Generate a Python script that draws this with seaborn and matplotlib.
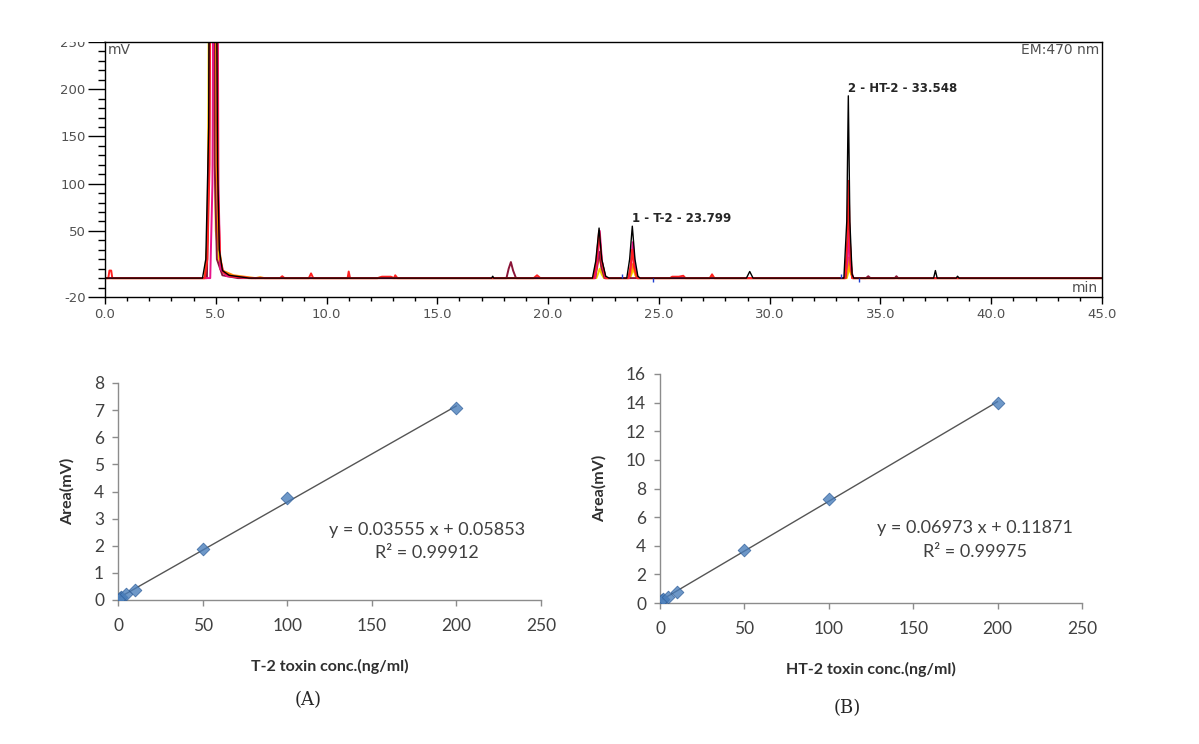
import matplotlib
matplotlib.use("Agg")
import matplotlib.pyplot as plt
import seaborn as sns
import pandas as pd
from matplotlib.patches import Rectangle

# --- chromatogram traces: (time in min, signal in mV) ---
black_pts = [(0, 0), (4.40, 0), (4.55, 20), (4.62, 95), (4.68, 160), (4.74, 550), (4.98, 550),
             (5.08, 120), (5.16, 30), (5.30, 8), (5.60, 3), (6.50, 0), (17.45, 0), (17.50, 2),
             (17.55, 0), (22.00, 0), (22.15, 18), (22.30, 53), (22.42, 20), (22.60, 2), (22.75, 0),
             (23.55, 0), (23.68, 20), (23.80, 55), (23.92, 20), (24.05, 2), (24.15, 0), (28.95, 0),
             (29.10, 7), (29.25, 0), (33.35, 0), (33.48, 60), (33.55, 193), (33.62, 60), (33.72, 4),
             (33.80, 0), (37.40, 0), (37.48, 8), (37.56, 0), (38.42, 0), (38.48, 2), (38.55, 0), (45, 0)]
red_pts = [(0, 0), (0.15, 0), (0.20, 8), (0.28, 8), (0.33, 0), (4.50, 0), (4.62, 20), (4.72, 120),
           (4.80, 550), (5.00, 550), (5.10, 90), (5.20, 20), (5.35, 6), (5.70, 2), (6.60, 0), (7.90, 0),
           (8.00, 2), (8.10, 0), (9.20, 0), (9.30, 5), (9.40, 0), (10.95, 0), (11.00, 7), (11.06, 0),
           (12.30, 0), (12.50, 1.5), (12.90, 1.5), (13.05, 0), (13.10, 3), (13.20, 0), (19.35, 0),
           (19.50, 3), (19.65, 0), (22.05, 0), (22.18, 18), (22.30, 50), (22.42, 18), (22.60, 0),
           (23.62, 0), (23.72, 12), (23.80, 30), (23.88, 12), (24.02, 0), (25.50, 0), (25.60, 1.5),
           (25.90, 1.5), (26.10, 2.5), (26.20, 0), (27.30, 0), (27.40, 4), (27.50, 0), (33.40, 0),
           (33.50, 40), (33.56, 103), (33.62, 40), (33.72, 0), (45, 0)]
magenta_pts = [(0, 0), (4.75, 0), (4.85, 100), (4.92, 550), (5.05, 550), (5.12, 100), (5.20, 10),
               (5.50, 2), (6.50, 0), (22.12, 0), (22.22, 18), (22.33, 50), (22.43, 18), (22.58, 0),
               (23.65, 0), (23.75, 15), (23.82, 38), (23.92, 12), (24.05, 0), (33.40, 0), (33.52, 20),
               (33.58, 50), (33.65, 15), (33.75, 0), (45, 0)]
maroon_pts = [(0, 0), (4.60, 0), (4.70, 150), (4.78, 550), (4.88, 550), (4.95, 120), (5.05, 20),
              (5.30, 3), (6.00, 0), (18.12, 0), (18.22, 10), (18.32, 17), (18.42, 8), (18.55, 0),
              (22.12, 0), (22.22, 15), (22.30, 28), (22.40, 12), (22.55, 0), (33.42, 0), (33.52, 30),
              (33.58, 60), (33.66, 15), (33.75, 0), (34.35, 0), (34.45, 2), (34.55, 0), (35.65, 0),
              (35.72, 2), (35.80, 0), (45, 0)]
orange_pts = [(0, 0), (4.50, 0), (4.62, 40), (4.70, 200), (4.76, 550), (4.90, 550), (5.00, 180),
              (5.10, 40), (5.30, 8), (5.80, 3), (6.80, 0), (7.00, 1), (7.20, 0), (12.30, 0), (12.60, 1.2),
              (13.00, 0), (22.12, 0), (22.22, 12), (22.32, 25), (22.42, 10), (22.58, 0), (23.68, 0),
              (23.76, 8), (23.83, 15), (23.92, 6), (24.02, 0), (27.30, 0), (27.40, 3), (27.50, 0),
              (33.45, 0), (33.52, 10), (33.58, 22), (33.65, 8), (33.75, 0), (45, 0)]
yellow_pts = [(0, 0), (4.55, 0), (4.65, 60), (4.72, 550), (4.80, 550), (4.90, 200), (5.00, 50),
              (5.20, 10), (5.60, 2), (6.50, 0), (22.18, 0), (22.26, 5), (22.33, 10), (22.42, 4),
              (22.52, 0), (23.70, 0), (23.78, 5), (23.85, 10), (23.93, 3), (24.02, 0), (33.48, 0),
              (33.55, 6), (33.60, 12), (33.66, 5), (33.75, 0), (45, 0)]

# integration markers (blue ticks)
mark_t = [23.35, 24.75, 33.2, 34.05]
mark_h = [4, -4, 4, -4]

# --- calibration data ---
t2_conc = [1, 2, 5, 10, 50, 100, 200]
t2_area = [0.08, 0.12, 0.22, 0.38, 1.87, 3.75, 7.08]
ht2_conc = [1, 2, 5, 10, 50, 100, 200]
ht2_area = [0.2, 0.28, 0.45, 0.8, 3.68, 7.27, 13.98]

sns.set_style("white")
plt.rcParams["font.family"] = ["DejaVu Sans"]
plt.rcParams["axes.unicode_minus"] = False

W, H = 1199, 744
fig = plt.figure(figsize=(W / 100, H / 100), dpi=100)


def box(l, t, r, b):
    return [l / W, 1 - b / H, (r - l) / W, (b - t) / H]


# ---------------- chromatogram ----------------
ax = fig.add_axes(box(105, 42, 1102, 297))
traces = [(yellow_pts, "#f2d400"), (orange_pts, "#ff8a00"), (maroon_pts, "#8b1538"),
          (magenta_pts, "#e8138a"), (red_pts, "#ff2020"), (black_pts, "black")]
for pts, c in traces:
    df = pd.DataFrame(pts, columns=["t", "mv"])
    lw = 1.0 if c == "black" else 1.4
    sns.lineplot(data=df, x="t", y="mv", sort=False, estimator=None, color=c, lw=lw, ax=ax)
ax.vlines(mark_t, 0, mark_h, color="#1f3fd0", lw=1)

ax.set_xlim(0, 45)
ax.set_ylim(-20, 250)
ax.set_xticks(range(0, 46, 5))
ax.set_xticklabels([f"{v:.1f}" for v in range(0, 46, 5)])
ax.set_xticks(range(0, 46), minor=True)
ax.set_yticks([-20, 50, 100, 150, 200, 250])
ax.set_yticks(range(-20, 251, 10), minor=True)
ax.tick_params(axis="y", which="both", left=True)
ax.tick_params(axis="x", which="both", bottom=True)
ax.tick_params(axis="y", which="major", length=12, width=1, direction="out", colors="black",
               labelcolor="#505050", labelsize=9.5, pad=2)
ax.tick_params(axis="y", which="minor", length=5, width=1, direction="out", colors="black")
ax.tick_params(axis="x", which="major", length=5, width=1, direction="out", colors="black",
               labelcolor="#505050", labelsize=9.5, pad=3)
ax.tick_params(axis="x", which="minor", length=3, width=1, direction="out", colors="black")
ax.set_xlabel("")
ax.set_ylabel("")
for s in ax.spines.values():
    s.set_color("black")
    s.set_linewidth(1)
ax.text(0.003, 0.995, "mV", transform=ax.transAxes, ha="left", va="top", color="#505050", fontsize=10)
ax.text(0.997, 0.995, "EM:470 nm", transform=ax.transAxes, ha="right", va="top", color="#505050",
        fontsize=10)
ax.text(44.8, -10, "min", ha="right", va="center", color="#505050", fontsize=10)
ax.text(23.8, 63, "1 - T-2 - 23.799", ha="left", va="center", fontsize=8.5, fontweight="bold")
ax.text(33.55, 201, "2 - HT-2 - 33.548", ha="left", va="center", fontsize=8.5, fontweight="bold")

# mimic the cropped top edge of the original picture
fig.patches.append(Rectangle((0, 1 - 42 / H), 104 / W, 42 / H, transform=fig.transFigure,
                             facecolor="white", edgecolor="none", zorder=10))


# ---------------- calibration curves ----------------
def calib(ax, conc, area, ymax, ystep, xlabel):
    sns.regplot(x=conc, y=area, ax=ax, ci=None, marker="D",
                scatter_kws=dict(s=42, color="#4a7ebb", edgecolor="#2f5f9a", linewidths=0.6, zorder=3),
                line_kws=dict(color="#555555", lw=1, zorder=2))
    ax.set_xlim(0, 250)
    ax.set_ylim(0, ymax)
    ax.set_xticks(range(0, 251, 50))
    ax.set_yticks(range(0, ymax + 1, ystep))
    for side in ["top", "right"]:
        ax.spines[side].set_visible(False)
    for side in ["left", "bottom"]:
        ax.spines[side].set_color("#8c8c8c")
        ax.spines[side].set_linewidth(1)
    ax.tick_params(axis="both", left=True, bottom=True, length=4, width=1, direction="out",
                   colors="#8c8c8c", labelcolor="#404040", labelsize=12.5)
    ax.tick_params(axis="x", pad=9)
    ax.tick_params(axis="y", pad=6)
    for lab in ax.get_xticklabels() + ax.get_yticklabels():
        lab.set_family(["Lato", "DejaVu Sans"])
    ax.set_xlabel(xlabel, fontsize=11.5, fontweight="bold", family=["Lato", "DejaVu Sans"],
                  color="#303030", labelpad=18)
    ax.set_ylabel("Area(mV)", fontsize=11.5, fontweight="bold", family=["Lato", "DejaVu Sans"],
                  color="#303030", labelpad=14)


axa = fig.add_axes(box(118, 383, 541, 600))
calib(axa, t2_conc, t2_area, 8, 1, "T-2 toxin conc.(ng/ml)")
axb = fig.add_axes(box(660, 374, 1082, 603))
calib(axb, ht2_conc, ht2_area, 16, 2, "HT-2 toxin conc.(ng/ml)")

eq_font = dict(fontsize=13, color="#404040", family=["Lato", "DejaVu Sans"], ha="center", va="center")
fig.text(427 / W, 1 - 530 / H, "y = 0.03555 x + 0.05853", **eq_font)
fig.text(427 / W, 1 - 553 / H, "R² = 0.99912", **eq_font)
fig.text(975 / W, 1 - 528 / H, "y = 0.06973 x + 0.11871", **eq_font)
fig.text(975 / W, 1 - 552 / H, "R² = 0.99975", **eq_font)

fig.text(308 / W, 1 - 700 / H, "(A)", fontsize=13, family=["DejaVu Serif"], ha="center", va="center")
fig.text(847 / W, 1 - 708 / H, "(B)", fontsize=13, family=["DejaVu Serif"], ha="center", va="center")

fig.savefig("out.png", dpi=100)
